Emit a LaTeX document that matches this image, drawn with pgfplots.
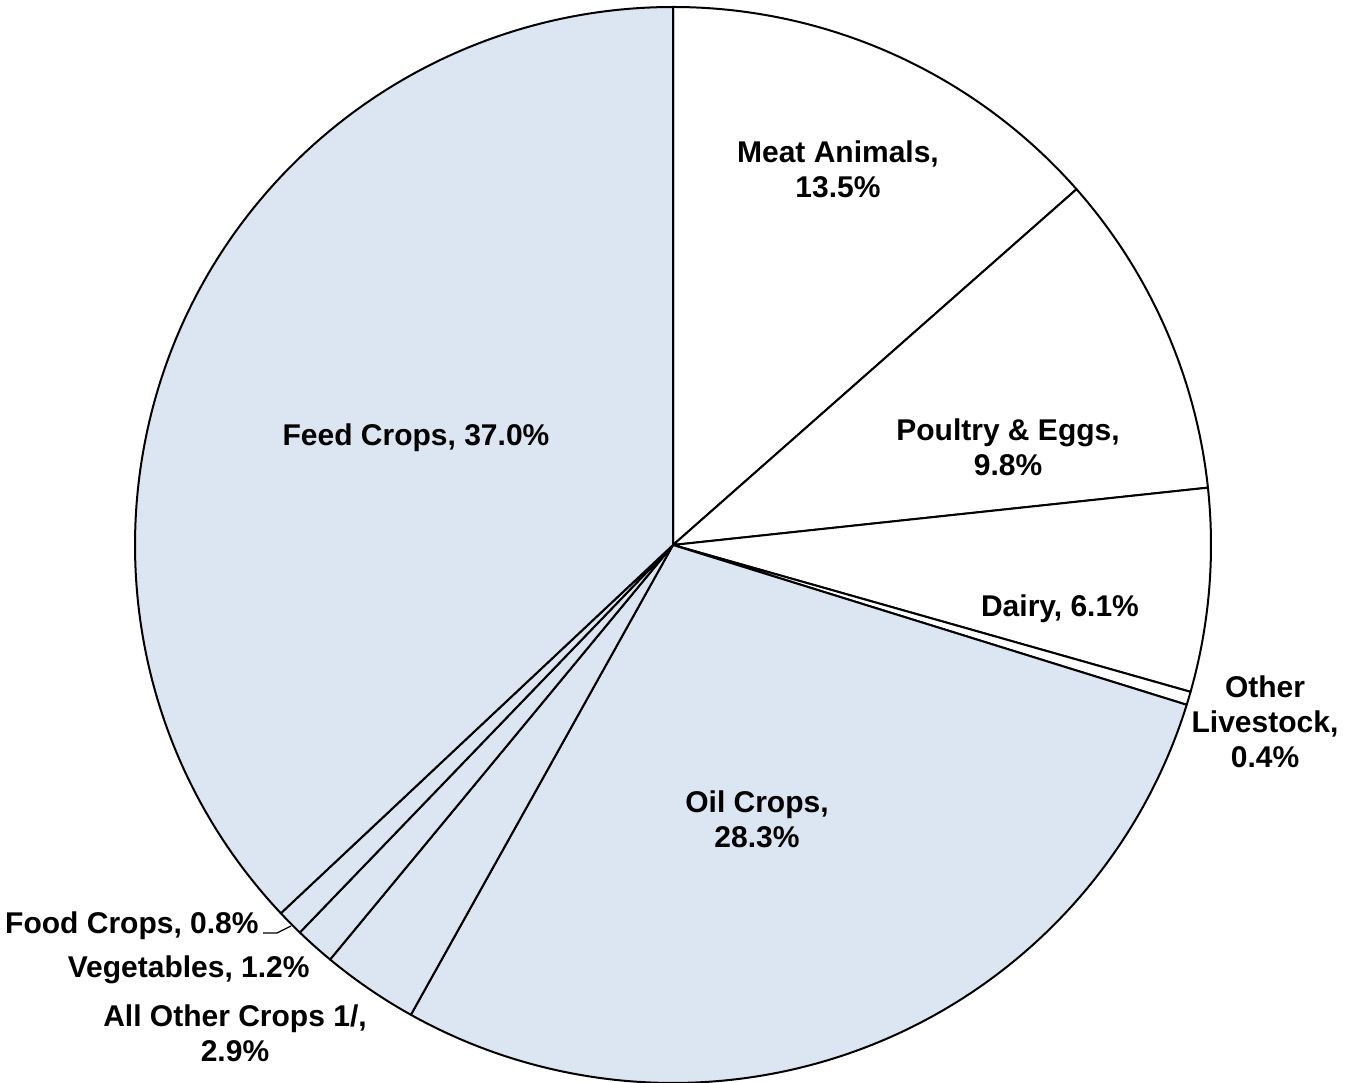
\documentclass[border=0pt]{standalone}
\usepackage{pgfplots}
\pgfplotsset{compat=1.18}
\usepackage{pgfplotstable}
\usepackage{fontspec}
\setmainfont{Liberation Sans}
\definecolor{cropblue}{HTML}{DCE6F2}
\pgfplotstableread{
value color
13.5 white
9.8 white
6.1 white
0.4 white
28.3 cropblue
2.9 cropblue
1.2 cropblue
0.8 cropblue
37.0 cropblue
}\piedata
\begin{document}
\begin{tikzpicture}
\begin{axis}[
  name=ax,
  scale only axis, width=677.5pt, height=541pt,
  xmin=0, xmax=1355, ymin=0, ymax=1082,
  hide axis, clip=false,
]
\pgfplotstablegetrowsof{\piedata}
\pgfmathtruncatemacro\lastrow{\pgfplotsretval-1}
\gdef\cum{0}
\pgfplotsforeachungrouped \i in {0,...,\lastrow}{%
  \pgfplotstablegetelem{\i}{value}\of\piedata
  \let\val\pgfplotsretval
  \pgfplotstablegetelem{\i}{color}\of\piedata
  \let\col\pgfplotsretval
  \pgfmathsetmacro\sa{90-3.6*\cum}
  \pgfmathsetmacro\ea{90-3.6*(\cum+\val)}
  \pgfmathsetmacro\newcum{\cum+\val}
  \xdef\cum{\newcum}
  \edef\temp{\noexpand\filldraw[fill=\col, draw=black, line width=1pt, line join=round]
    (axis cs:673,537) -- ++(\sa:269pt) arc[start angle=\sa, end angle=\ea, radius=269pt] -- cycle;}
  \temp
}
\tikzset{lab/.style={font=\fontsize{15}{17.4}\selectfont\bfseries, align=center, inner sep=0pt}}
\node[lab] at (axis cs:838,912.5) {Meat Animals,\\13.5\%};
\node[lab] at (axis cs:1008,634.5) {Poultry \& Eggs,\\9.8\%};
\node[lab] at (axis cs:1060,473) {Dairy, 6.1\%};
\node[lab] at (axis cs:1265,360) {Other\\Livestock,\\0.4\%};
\node[lab] at (axis cs:757,263) {Oil Crops,\\28.3\%};
\node[lab] at (axis cs:416,644) {Feed Crops, 37.0\%};
\node[lab, anchor=east] at (axis cs:259,156) {Food Crops, 0.8\%};
\node[lab, anchor=east] at (axis cs:310,112) {Vegetables, 1.2\%};
\node[lab] at (axis cs:235,49) {All Other Crops 1/,\\2.9\%};
\draw[line width=0.6pt] (axis cs:263,149) -- (axis cs:277,149) -- (axis cs:291,156);
\end{axis}
\pgfresetboundingbox
\path (ax.south west) rectangle (ax.north east);
\end{tikzpicture}
\end{document}
